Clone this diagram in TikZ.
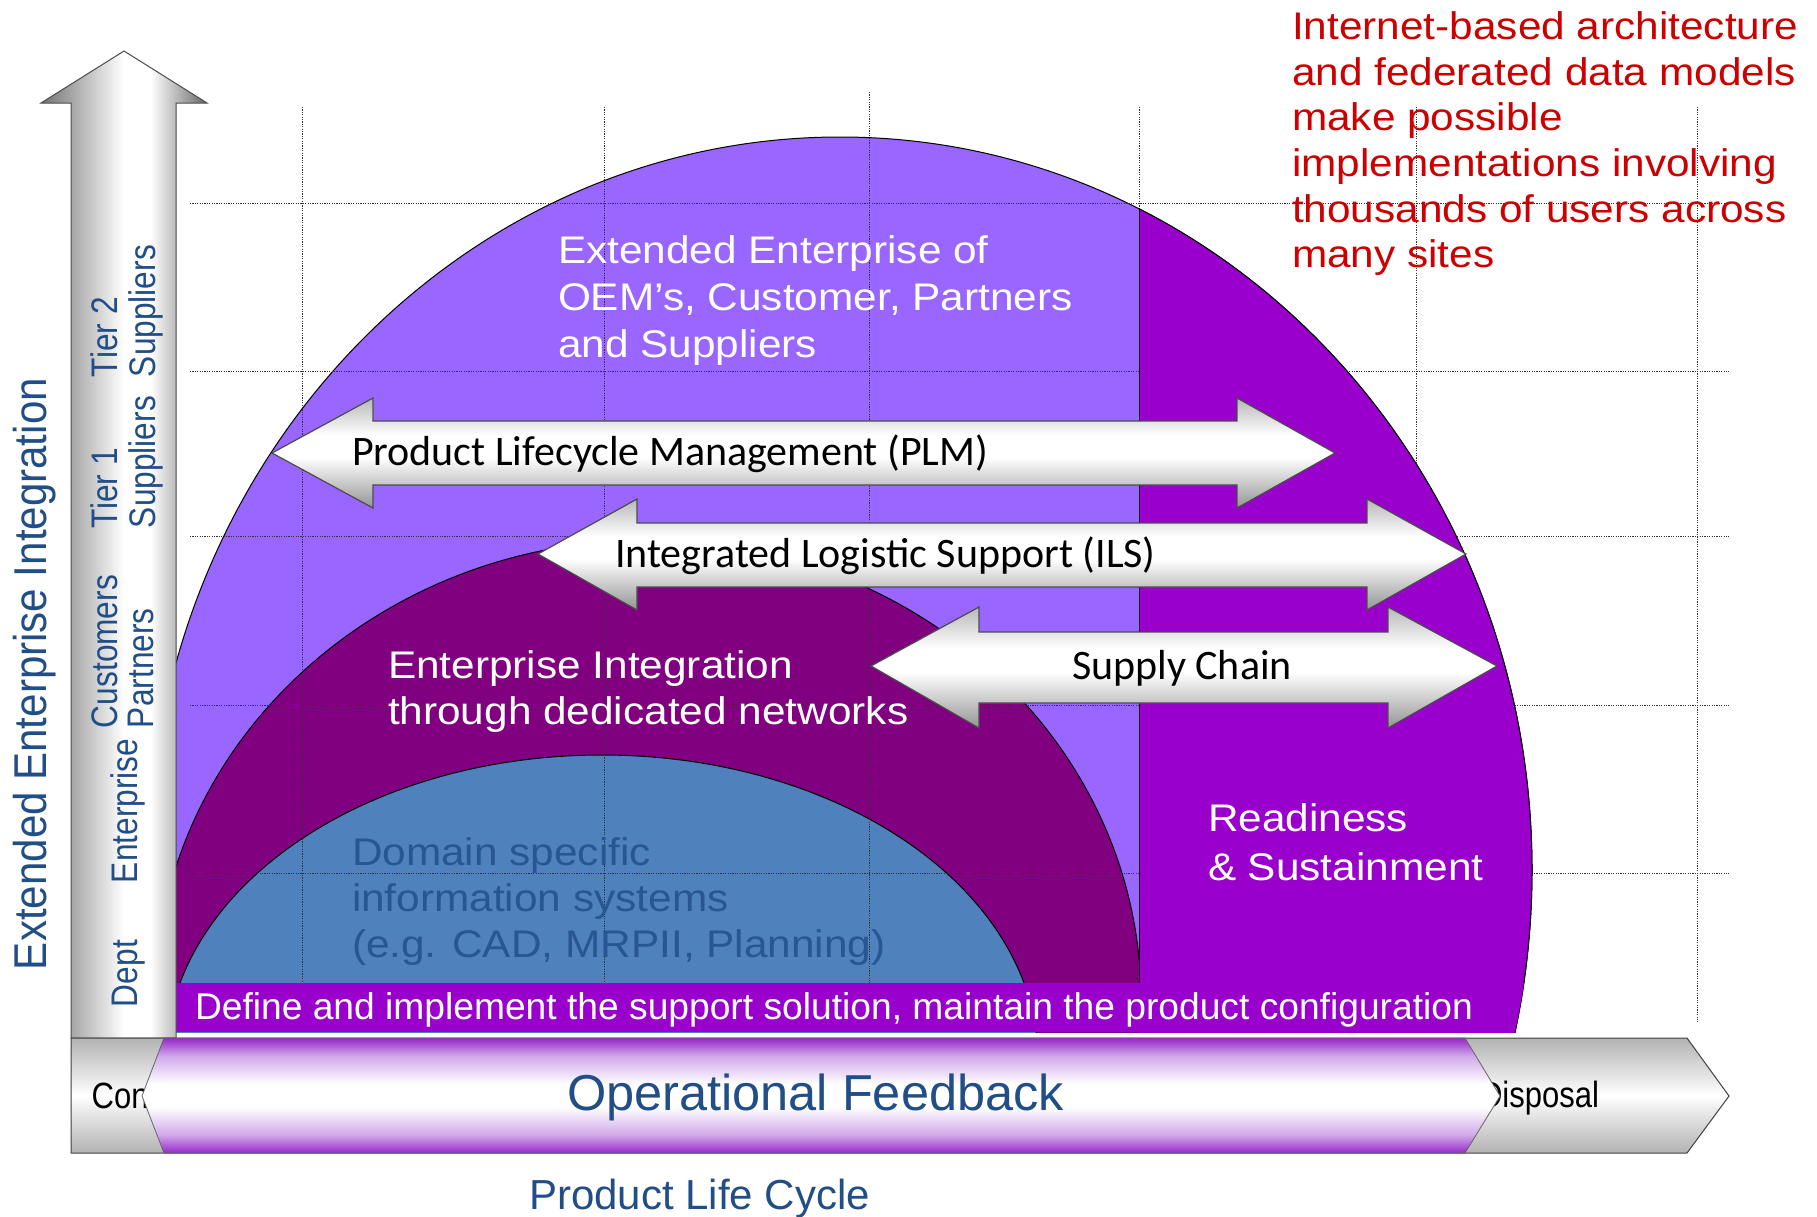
\documentclass[tikz,border=0pt]{standalone}
\usepackage{fontspec}
\setmainfont{Liberation Sans}
\newfontfamily\wideA[FakeStretch=1.1]{Liberation Sans}
\newfontfamily\narrowA[FakeStretch=0.85]{Liberation Sans}
\newfontfamily\axisA[FakeStretch=0.915]{Liberation Sans}
\newfontfamily\lblA[FakeStretch=0.855]{Liberation Sans}
\newfontfamily\calA{Carlito}
\definecolor{lpurple}{HTML}{9966FF}
\definecolor{maroonD}{HTML}{800080}
\definecolor{blueD}{HTML}{4F81BD}
\definecolor{dpurple}{HTML}{9900CC}
\definecolor{redT}{HTML}{CC0000}
\definecolor{blueT}{HTML}{214E87}
\definecolor{domT}{HTML}{275692}
\definecolor{pB}{HTML}{9628C8}
\definecolor{pL}{HTML}{D2AAEB}
\definecolor{gA}{gray}{0.58}
\definecolor{gB}{gray}{0.72}
\definecolor{gC}{gray}{0.45}
\definecolor{gD}{gray}{0.40}
\definecolor{gE}{gray}{0.70}
\pgfdeclareverticalshading{dblshade}{100bp}{color(0bp)=(gA); color(25bp)=(gA); color(48bp)=(white); color(58bp)=(white); color(75bp)=(gB); color(100bp)=(gB)}
\pgfdeclarehorizontalshading{vshade}{100bp}{color(0bp)=(gC); color(25bp)=(gC); color(50bp)=(white); color(58bp)=(white); color(75bp)=(gD); color(100bp)=(gD)}
\pgfdeclareverticalshading{hshade}{100bp}{color(0bp)=(gE); color(25bp)=(gE); color(50bp)=(white); color(75bp)=(gE); color(100bp)=(gE)}
\pgfdeclareverticalshading{fbshade}{100bp}{color(0bp)=(pB); color(25bp)=(pB); color(33bp)=(pL); color(45bp)=(white); color(55bp)=(white); color(67bp)=(pL); color(75bp)=(pB); color(100bp)=(pB)}
\tikzset{
  every node/.style={inner sep=0pt, outer sep=0pt},
  gridline/.style={black!80, line width=0.9pt, dash pattern=on 1.2pt off 1.2pt},
  domeline/.style={draw=black, line width=1pt},
  dblarrow/.style={shading=dblshade, draw=black!70, line width=1.2pt},
  bigtxt/.style={font=\wideA\fontsize{38.5}{46}\selectfont, anchor=base west},
  caltxt/.style={font=\calA\fontsize{42}{50}\selectfont, anchor=base west, black},
  lbltxt/.style={font=\lblA\fontsize{37}{44}\selectfont, anchor=base west, rotate=90, blueT},
  phasetxt/.style={font=\narrowA\fontsize{36.5}{44}\selectfont, anchor=base west, black}
}
\begin{document}
\begin{tikzpicture}[x=1pt, y=-1pt]
\useasboundingbox (0,0) rectangle (1817,1216);
\fill[white] (0,0) rectangle (1817,1216);

% domes
\begin{scope}
  \clip (176,0) rectangle (1817,1032);
  \filldraw[fill=lpurple, domeline] (840,870) ellipse [x radius=692pt, y radius=733pt];
  \filldraw[fill=maroonD, domeline] (648,1000) ellipse [x radius=493pt, y radius=460pt];
  \filldraw[fill=blueD, domeline] (602,1060) ellipse [x radius=436pt, y radius=305pt];
\end{scope}

% grid
\foreach \gx/\gt in {302/107, 604/107, 869/92, 1139/107, 1416/107, 1697/107}
  \draw[gridline] (\gx,\gt) -- (\gx,1022);
\foreach \gy in {203, 371, 536, 705, 873}
  \draw[gridline] (190,\gy) -- (1729,\gy);

% readiness region
\begin{scope}
  \clip (1139,0) rectangle (1817,1032);
  \filldraw[fill=dpurple, domeline] (840,870) ellipse [x radius=692pt, y radius=733pt];
\end{scope}
\draw[black, line width=1pt] (1139,209) -- (1139,983);

% support bar
\begin{scope}
  \clip (840,870) ellipse [x radius=692pt, y radius=733pt];
  \fill[dpurple] (176,983) rectangle (1817,1032);
\end{scope}

% vertical axis arrow
\shadedraw[shading=vshade, draw=black!70, line width=1pt]
  (71,1038) -- (71,103) -- (41,103) -- (124,51) -- (207,103) -- (176,103) -- (176,1038) -- cycle;

% horizontal life-cycle arrow
\shadedraw[shading=hshade, draw=black!75, line width=1pt]
  (71,1038) -- (1687,1038) -- (1729,1096) -- (1687,1153) -- (71,1153) -- cycle;
\node[phasetxt] (con) at (91.7,1108) {Concept};
\node[phasetxt] (disp) at (1480,1107) {Disposal};

% operational feedback arrow
\shadedraw[shading=fbshade, draw=black!60, line width=0.8pt]
  (142,1096) -- (164,1038) -- (1465,1038) -- (1500,1096) -- (1465,1153) -- (164,1153) -- cycle;
\node[font=\fontsize{50.5}{60}\selectfont, anchor=base, blueT] (fb) at (815.5,1110) {Operational Feedback};

% double arrows
\shadedraw[dblarrow] (272,453) -- (373,398) -- (373,421) -- (1237,421) -- (1237,398) -- (1335,453)
  -- (1237,508) -- (1237,485) -- (373,485) -- (373,508) -- cycle;
\shadedraw[dblarrow] (538,554) -- (637,499) -- (637,523) -- (1367,523) -- (1367,499) -- (1466,554)
  -- (1367,610) -- (1367,587) -- (637,587) -- (637,610) -- cycle;
\shadedraw[dblarrow] (871,666) -- (979,607) -- (979,632) -- (1388,632) -- (1388,607) -- (1497,666)
  -- (1388,728) -- (1388,703) -- (979,703) -- (979,728) -- cycle;
\node[caltxt] (plm) at (352,465) {Product Lifecycle Management (PLM)};
\node[caltxt] (ils) at (615,567) {Integrated Logistic Support (ILS)};
\node[caltxt] (sc) at (1072,679) {Supply Chain};

% texts in domes
\node[bigtxt, white] (ee1) at (558,263) {Extended Enterprise of};
\node[bigtxt, white] (ee2) at (558,310) {OEM’s, Customer, Partners};
\node[bigtxt, white] (ee3) at (558,357) {and Suppliers};
\node[bigtxt, white] (ei1) at (388,678) {Enterprise Integration};
\node[bigtxt, white] (ei2) at (388,724) {through dedicated networks};
\node[bigtxt, domT] (ds1) at (352,865) {Domain specific};
\node[bigtxt, domT] (ds2) at (352,911) {information systems};
\node[bigtxt, domT] (ds3) at (352,957) {(e.g. CAD, MRPII, Planning)};
\node[bigtxt, white] (rs1) at (1208,831) {Readiness};
\node[bigtxt, white] (rs2) at (1208,880) {\& Sustainment};
\node[font=\fontsize{37.2}{44}\selectfont, anchor=base west, white] (bar) at (195,1019) {Define and implement the support solution, maintain the product configuration};

% red note
\node[bigtxt, redT] (r1) at (1292,39) {Internet-based architecture};
\node[bigtxt, redT] (r2) at (1292,85) {and federated data models};
\node[bigtxt, redT] (r3) at (1292,130.5) {make possible};
\node[bigtxt, redT] (r4) at (1292,176) {implementations involving};
\node[bigtxt, redT] (r5) at (1292,222) {thousands of users across};
\node[bigtxt, redT] (r6) at (1292,267.5) {many sites};

% axis labels
\node[font=\axisA\fontsize{46}{54}\selectfont, anchor=base west, rotate=90, blueT] (yax) at (46,970) {Extended Enterprise Integration};
\node[lbltxt] (t2a) at (117,377) {Tier 2};
\node[lbltxt] (t2b) at (155,377) {Suppliers};
\node[lbltxt] (t1a) at (117,528) {Tier 1};
\node[lbltxt] (t1b) at (155,528) {Suppliers};
\node[lbltxt] (cpa) at (117,728) {Customers};
\node[lbltxt] (cpb) at (153,728) {Partners};
\node[lbltxt] (ent) at (137,883) {Enterprise};
\node[lbltxt] (dep) at (137,1007) {Dept};
\node[font=\fontsize{42}{50}\selectfont, anchor=base west, blueT] (xax) at (529,1209) {Product Life Cycle};
\end{tikzpicture}
\end{document}
